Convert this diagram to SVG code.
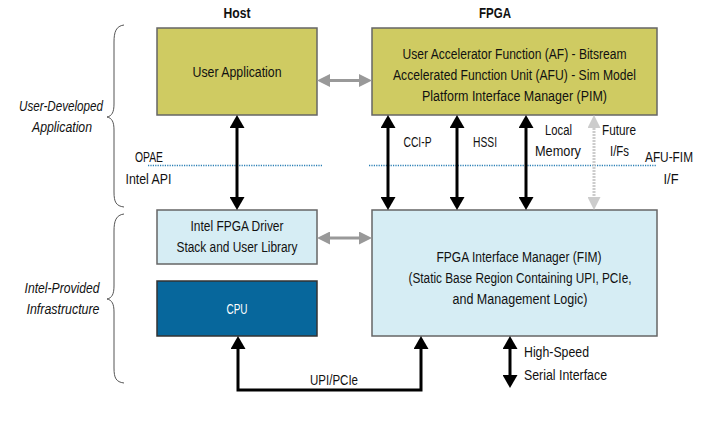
<svg xmlns="http://www.w3.org/2000/svg" width="705" height="422" viewBox="0 0 705 422">
<style>
text{font-family:"Liberation Sans",Arial,sans-serif;font-size:15.5px;fill:#111;text-anchor:middle}
.b{font-weight:bold}
.i{font-style:italic}
.w{fill:#fff}
.l{text-anchor:start}
.olive{fill:#cfcb62;stroke:#666;stroke-width:1.5}
.blue{fill:#d6edf4;stroke:#666;stroke-width:1.5}
.dark{fill:#07679c;stroke:#333;stroke-width:1.5}
.ka{fill:none;stroke:#000;stroke-width:3;marker-start:url(#ah);marker-end:url(#ah)}
.ga{fill:none;stroke:#999;stroke-width:3;marker-start:url(#gh);marker-end:url(#gh)}
.la{fill:none;stroke:#ccc;stroke-width:3;stroke-dasharray:2 1;marker-start:url(#lh);marker-end:url(#lh)}
.dot{fill:none;stroke:#2a7fb5;stroke-width:1.5;stroke-dasharray:1.2 1.2}
.brace{fill:none;stroke:#555;stroke-width:1}
</style>
<defs>
<marker id="ah" markerUnits="userSpaceOnUse" markerWidth="13" markerHeight="15" viewBox="0 0 13 15" refX="0" refY="7.5" orient="auto-start-reverse"><path d="M0,0L13,7.5L0,15z" fill="#000"/></marker>
<marker id="gh" markerUnits="userSpaceOnUse" markerWidth="13" markerHeight="13" viewBox="0 0 13 13" refX="0" refY="6.5" orient="auto-start-reverse"><path d="M0,0L13,6.5L0,13z" fill="#999"/></marker>
<marker id="lh" markerUnits="userSpaceOnUse" markerWidth="13" markerHeight="13" viewBox="0 0 13 13" refX="0" refY="6.5" orient="auto-start-reverse"><path d="M0,0L13,6.5L0,13z" fill="#ccc"/></marker>
</defs>

<g id="labels">
<text class="b" x="237" y="18" textLength="27" lengthAdjust="spacingAndGlyphs">Host</text>
<text class="b" x="495" y="18" textLength="32" lengthAdjust="spacingAndGlyphs">FPGA</text>
<text class="i" x="61" y="111" textLength="84" lengthAdjust="spacingAndGlyphs">User-Developed</text>
<text class="i" x="62" y="132" textLength="60" lengthAdjust="spacingAndGlyphs">Application</text>
<text class="i" x="62" y="293" textLength="75" lengthAdjust="spacingAndGlyphs">Intel-Provided</text>
<text class="i" x="63" y="314" textLength="73" lengthAdjust="spacingAndGlyphs">Infrastructure</text>
<path class="brace" d="M124,25C116,26 114,32 114,42L114,104C114,112 112,116 107,117C112,118 114,122 114,130L114,192C114,202 116,206 124,207"/>
<path class="brace" d="M124,214C116,215 114,221 114,231L114,286C114,294 112,298 107,299C112,300 114,304 114,312L114,368C114,378 116,382 124,383"/>
<path class="dot" d="M148,165.5H323M369,165.5H657"/>
<text x="149" y="162" textLength="28" lengthAdjust="spacingAndGlyphs">OPAE</text>
<text x="148.5" y="184" textLength="46" lengthAdjust="spacingAndGlyphs">Intel API</text>
<text x="669" y="162" textLength="48" lengthAdjust="spacingAndGlyphs">AFU-FIM</text>
<text x="671" y="184" textLength="15" lengthAdjust="spacingAndGlyphs">I/F</text>
</g>

<g id="user-app">
<rect class="olive" x="157" y="28" width="160" height="87"/>
<text x="237" y="77" textLength="89" lengthAdjust="spacingAndGlyphs">User Application</text>
</g>
<g id="afu">
<rect class="olive" x="372" y="28" width="285" height="87"/>
<text x="514.5" y="59" textLength="224" lengthAdjust="spacingAndGlyphs">User Accelerator Function (AF) - Bitsream</text>
<text x="514.5" y="80" textLength="243" lengthAdjust="spacingAndGlyphs">Accelerated Function Unit (AFU) - Sim Model</text>
<text x="514.5" y="101" textLength="185" lengthAdjust="spacingAndGlyphs">Platform Interface Manager (PIM)</text>
</g>
<g id="driver">
<rect class="blue" x="157" y="210" width="160" height="54"/>
<text x="237" y="231" textLength="93" lengthAdjust="spacingAndGlyphs">Intel FPGA Driver</text>
<text x="237" y="252" textLength="121" lengthAdjust="spacingAndGlyphs">Stack and User Library</text>
</g>
<g id="cpu">
<rect class="dark" x="157" y="281" width="160" height="55"/>
<text class="w" x="237" y="314" textLength="21" lengthAdjust="spacingAndGlyphs">CPU</text>
</g>
<g id="fim">
<rect class="blue" x="372" y="210" width="285" height="126"/>
<text x="519" y="262" textLength="165" lengthAdjust="spacingAndGlyphs">FPGA Interface Manager (FIM)</text>
<text x="520" y="283" textLength="223" lengthAdjust="spacingAndGlyphs">(Static Base Region Containing UPI, PCIe,</text>
<text x="520" y="304" textLength="135" lengthAdjust="spacingAndGlyphs">and Management Logic)</text>
</g>

<g id="connectors">
<path class="ga" d="M330,80.5H359"/>
<path class="ga" d="M330,238H359"/>
<path class="ka" d="M237,128V197"/>
<path class="ka" d="M388,128V197"/>
<path class="ka" d="M457,128V197"/>
<path class="ka" d="M526,128V197"/>
<path class="la" d="M594,128V197"/>
<path class="ka" d="M238,349V390H421V349"/>
<path class="ka" d="M510,349V375"/>
<text x="417.5" y="147" textLength="28" lengthAdjust="spacingAndGlyphs">CCI-P</text>
<text x="485" y="147" textLength="24" lengthAdjust="spacingAndGlyphs">HSSI</text>
<text x="558.5" y="135" textLength="27" lengthAdjust="spacingAndGlyphs">Local</text>
<text x="558" y="156" textLength="46" lengthAdjust="spacingAndGlyphs">Memory</text>
<text x="619" y="135" textLength="34" lengthAdjust="spacingAndGlyphs">Future</text>
<text x="619.5" y="156" textLength="19" lengthAdjust="spacingAndGlyphs">I/Fs</text>
<text x="334" y="385" textLength="48" lengthAdjust="spacingAndGlyphs">UPI/PCIe</text>
<text class="l" x="524" y="357" textLength="65" lengthAdjust="spacingAndGlyphs">High-Speed</text>
<text class="l" x="524" y="380" textLength="83" lengthAdjust="spacingAndGlyphs">Serial Interface</text>
</g>
</svg>
